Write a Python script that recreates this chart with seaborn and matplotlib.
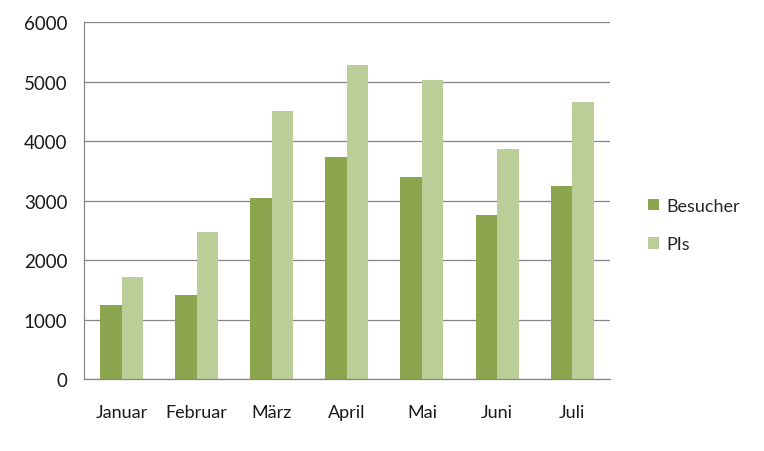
import matplotlib
matplotlib.use("Agg")
import matplotlib.pyplot as plt
import numpy as np
import pandas as pd
import seaborn as sns

# Monthly values
months = ["Januar", "Februar", "März", "April", "Mai", "Juni", "Juli"]
besucher = [1245, 1410, 3040, 3730, 3390, 2755, 3240]
pis = [1712, 2470, 4505, 5275, 5020, 3860, 4650]
series_names = ["Besucher", "PIs"]
series_colors = ["#8BA64F", "#BBCE97"]
y_ticks = [0, 1000, 2000, 3000, 4000, 5000, 6000]

df = pd.DataFrame({
    "Monat": months * 2,
    "Wert": besucher + pis,
    "Serie": [series_names[0]] * len(months) + [series_names[1]] * len(months),
})

sns.set_style("white")
plt.rcParams["font.family"] = ["Lato", "DejaVu Sans"]

grid_color = "#868686"
text_color = "#1a1a1a"
fs = 13

fig = plt.figure(figsize=(7.64, 4.52), dpi=100)
ax = fig.add_axes([0.110, 0.159, 0.688, 0.790])

sns.barplot(
    data=df, x="Monat", y="Wert", hue="Serie",
    order=months, hue_order=series_names,
    palette=series_colors, width=0.573, saturation=1,
    edgecolor="none", linewidth=0, errorbar=None, ax=ax,
)

ax.set_xlim(-0.5, len(months) - 0.5)
ax.set_ylim(0, 6000)
ax.set_yticks(y_ticks)
ax.set_yticklabels([str(v) for v in y_ticks], fontsize=fs + 0.5, color=text_color)
ax.grid(axis="y", color=grid_color, linewidth=0.9)
ax.set_axisbelow(True)

ax.set_xticks(range(len(months)))
ax.set_xticklabels(months, fontsize=fs, color=text_color)
ax.set_xticks(np.arange(-0.5, len(months)), minor=True)
ax.tick_params(axis="x", which="major", length=0, pad=18)
ax.tick_params(axis="x", which="minor", length=4.5, width=0.9, color=grid_color)
ax.tick_params(axis="y", length=3, width=0.9, color=grid_color, pad=9)

ax.set_xlabel("")
ax.set_ylabel("")
for side in ["top", "right"]:
    ax.spines[side].set_visible(False)
for side in ["left", "bottom"]:
    ax.spines[side].set_color(grid_color)
    ax.spines[side].set_linewidth(0.9)

handles, labels = ax.get_legend_handles_labels()
ax.legend(
    handles, labels, loc="center left", bbox_to_anchor=(0.836, 0.500),
    bbox_transform=fig.transFigure, frameon=False, fontsize=fs,
    handlelength=0.6, handleheight=0.6, handletextpad=0.45,
    labelspacing=1.25, borderpad=0,
)

fig.savefig("out.png", dpi=100)
plt.close(fig)
